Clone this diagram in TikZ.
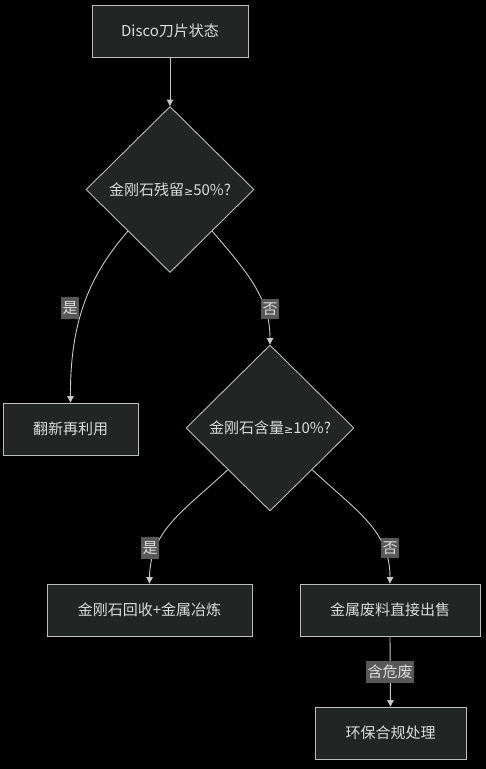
\documentclass[tikz,border=0pt]{standalone}
\usepackage{fontspec}
\setmainfont{Noto Sans CJK SC}
\newfontfamily\symfont{DejaVu Sans}
\newcommand{\geqsym}{{\symfont\fontsize{11}{18}\selectfont ≥}}
\usetikzlibrary{shapes.geometric,arrows.meta,calc}
\definecolor{bgc}{HTML}{000000}
\definecolor{nodefill}{HTML}{232524}
\definecolor{nodeline}{HTML}{BDBDBD}
\definecolor{txt}{HTML}{DCDCDC}
\definecolor{lblfill}{HTML}{585858}
\definecolor{edgec}{HTML}{C8C8C8}
\begin{document}
\begin{tikzpicture}[x=1pt,y=-1pt,
  every node/.style={font=\fontsize{15}{18}\selectfont, text=txt},
  box/.style={draw=nodeline, fill=nodefill, line width=0.9pt, rectangle, inner sep=0pt},
  dia/.style={draw=nodeline, fill=nodefill, line width=0.9pt, diamond, inner sep=0pt, minimum width=168pt, minimum height=166pt},
  lbl/.style={fill=lblfill, inner xsep=1.5pt, inner ysep=4pt, text=txt},
  conn/.style={draw=edgec, line width=0.9pt, -{Triangle[width=6.5pt,length=6.5pt]}}
]
\fill[bgc] (0,0) rectangle (486,769);
\useasboundingbox (0,0) rectangle (486,769);

\node[box, minimum width=156pt, minimum height=52pt] (a) at (170,31) {Disco刀片状态};
\node[dia] (d1) at (170,189.5) {金刚石残留\geqsym50\%?};
\node[box, minimum width=135pt, minimum height=52pt] (r) at (70.5,429) {翻新再利用};
\node[dia] (d2) at (270,428) {金刚石含量\geqsym10\%?};
\node[box, minimum width=205pt, minimum height=52pt] (m) at (149.5,610) {金刚石回收+金属冶炼};
\node[box, minimum width=180pt, minimum height=52pt] (s) at (390,610) {金属废料直接出售};
\node[box, minimum width=151pt, minimum height=52pt] (e) at (390.5,733) {环保合规处理};

\coordinate (d1l) at ($(d1.west)!0.5!(d1.south)$);
\coordinate (d1r) at ($(d1.east)!0.5!(d1.south)$);
\coordinate (d2l) at ($(d2.west)!0.5!(d2.south)$);
\coordinate (d2r) at ($(d2.east)!0.5!(d2.south)$);

\draw[conn] (a.south) -- (d1.north);
\draw[conn] (d1l) .. controls (90,275) and (70,320) .. (r.north);
\draw[conn] (d1r) .. controls (250,275) and (270,300) .. (d2.north);
\draw[conn] (d2l) .. controls (185,510) and (150,530) .. (m.north);
\draw[conn] (d2r) .. controls (355,510) and (390,530) .. (s.north);
\draw[conn] (s.south) -- (e.north);

\node[lbl] (l1) at (70,308) {是};
\node[lbl] (l2) at (270,309) {否};
\node[lbl] (l3) at (150,548) {是};
\node[lbl] (l4) at (390,548) {否};
\node[lbl] (l5) at (390,672) {含危废};
\end{tikzpicture}
\end{document}
